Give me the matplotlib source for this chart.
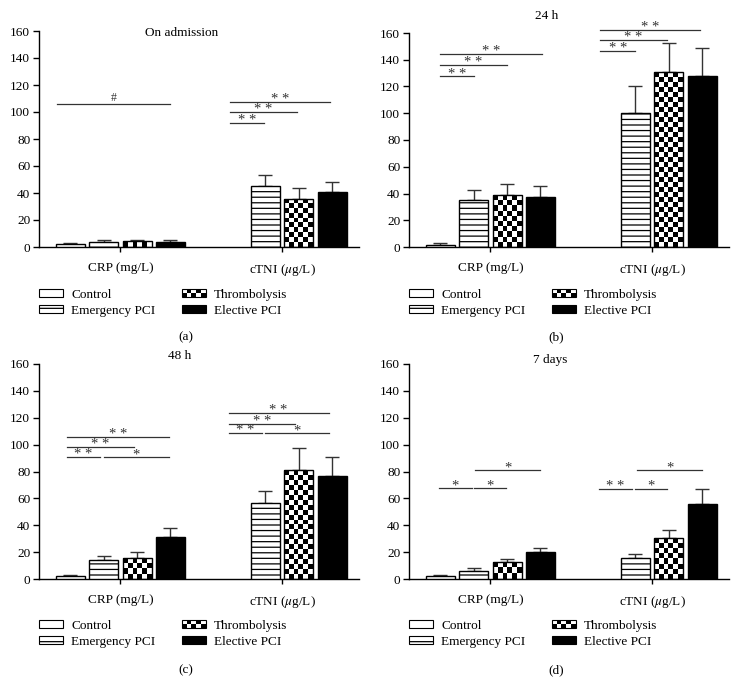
import matplotlib
matplotlib.use('Agg')
import matplotlib.pyplot as plt
import numpy as np
from matplotlib.patches import Rectangle, Patch
from matplotlib.legend_handler import HandlerBase

plt.rcParams['font.family'] = ['Liberation Serif', 'DejaVu Serif']
plt.rcParams['mathtext.fontset'] = 'stix'
plt.rcParams['hatch.linewidth'] = 0.9

# ---- data ----
groups = ['CRP (mg/L)', 'cTNI ($\\mu$g/L)']
series = ['Control', 'Emergency PCI', 'Thrombolysis', 'Elective PCI']
titles = ['On admission', '24 h', '48 h', '7 days']
panel_tags = ['(a)', '(b)', '(c)', '(d)']
nan = np.nan

# mean values, rows = groups (CRP, cTNI), cols = series
adm_mean = [[2.3, 3.6, 4.2, 3.8], [nan, 45.3, 35.9, 40.6]]
adm_err = [[0.8, 1.3, 1.3, 1.1], [nan, 8.2, 7.9, 7.2]]
h24_mean = [[1.8, 35.5, 38.7, 37.5], [nan, 100.0, 130.5, 128.0]]
h24_err = [[1.4, 7.3, 8.3, 8.3], [nan, 20.5, 22.0, 20.8]]
h48_mean = [[2.0, 13.9, 15.6, 31.0], [nan, 56.6, 80.9, 76.9]]
h48_err = [[1.2, 3.0, 4.2, 7.0], [nan, 8.7, 16.6, 13.9]]
d7_mean = [[2.0, 6.2, 12.7, 19.9], [nan, 15.4, 30.5, 55.8]]
d7_err = [[1.2, 2.0, 2.2, 3.1], [nan, 3.2, 6.2, 11.4]]

# significance lines: (group, from, to, y, label)
adm_sig = [(0, -1.9, 1.5, 105.7, '#'),
           (1, -1.55, -0.55, 91.8, '* *'), (1, -1.55, 0.45, 99.8, '* *'),
           (1, -1.55, 1.45, 107.4, '* *')]
h24_sig = [(0, -1.5, -0.5, 127.5, '* *'), (0, -1.5, 0.5, 135.8, '* *'),
           (0, -1.5, 1.55, 144.3, '* *'),
           (1, -1.55, -0.5, 146.8, '* *'), (1, -1.55, 0.45, 154.5, '* *'),
           (1, -1.55, 1.45, 162.5, '* *')]
h48_sig = [(0, -1.6, -0.6, 90.6, '* *'), (0, -0.5, 1.45, 90.6, '*'),
           (0, -1.6, 0.4, 98.3, '* *'), (0, -1.6, 1.45, 106.0, '* *'),
           (1, -1.6, -0.6, 108.4, '* *'), (1, -0.5, 1.4, 108.4, '*'),
           (1, -1.6, 0.4, 115.6, '* *'), (1, -1.6, 1.4, 123.5, '* *')]
d7_sig = [(0, -1.55, -0.55, 67.7, '*'), (0, -0.48, 0.48, 67.7, '*'),
          (0, -0.45, 1.5, 80.9, '*'),
          (1, -1.6, -0.6, 67.0, '* *'), (1, -0.5, 0.45, 67.0, '*'),
          (1, -0.45, 1.5, 80.9, '*')]

means = [adm_mean, h24_mean, h48_mean, d7_mean]
errs = [adm_err, h24_err, h48_err, d7_err]
sigs = [adm_sig, h24_sig, h48_sig, d7_sig]

# ---- layout ----
W, H = 743, 683
group_x = [0.0, 4.85]
offsets = [-1.5, -0.5, 0.5, 1.5]
bar_w = 0.87
px_y = 215 / 160.0   # pixels per y unit, for the checker size
cell_px = 5.0

# axes boxes in pixels: left, top, width, height
boxes = [(39, 31, 320, 216), (409, 33, 320, 214), (39, 364, 320, 215), (409, 364, 320, 215)]
title_xy = [(182, 33), (547, 16), (180, 356), (550, 360)]
tag_xy = [(186, 337), (556, 337), (186, 670), (556, 670)]
legend_top = [289, 289, 620, 620]


class CheckerHandler(HandlerBase):
    # legend box with a small checkerboard
    def create_artists(self, legend, orig_handle, xdescent, ydescent, width, height, fontsize, trans):
        arts = [Rectangle((-xdescent, -ydescent), width, height, fc='white', ec='black', lw=0.8, transform=trans)]
        nx, ny = 5, 2
        cw, ch = width / nx, height / ny
        for i in range(nx):
            for j in range(ny):
                if (i + j) % 2 == 0:
                    arts.append(Rectangle((-xdescent + i * cw, -ydescent + j * ch), cw, ch,
                                          fc='black', ec='none', transform=trans))
        return arts


fig = plt.figure(figsize=(W / 100, H / 100), dpi=100)

for p in range(4):
    l, t, w, h = boxes[p]
    ax = fig.add_axes([l / W, 1 - (t + h) / H, w / W, h / H])

    for g in range(2):
        for s in range(4):
            m = means[p][g][s]
            e = errs[p][g][s]
            if np.isnan(m):
                continue
            x = group_x[g] + offsets[s]
            ax.errorbar([x], [m], yerr=[[0], [e]], fmt='none', ecolor='#333333',
                        elinewidth=1.0, capsize=5, capthick=1.0, zorder=2)
            if s == 0:
                ax.bar(x, m, width=bar_w, color='white', edgecolor='black', linewidth=1.0, zorder=3)
            elif s == 1:
                ax.bar(x, m, width=bar_w, color='white', edgecolor='black', linewidth=1.0,
                       hatch='---', zorder=3)
            elif s == 2:
                bars = ax.bar(x, m, width=bar_w, color='none', edgecolor='black', linewidth=1.0, zorder=3)
                rect = bars[0]
                ny = max(1, int(round(m * px_y / cell_px)))
                nx = 6
                arr = np.add.outer(np.arange(ny), np.arange(nx)) % 2
                im = ax.imshow(arr, cmap='gray', vmin=0, vmax=1,
                               extent=(x - bar_w / 2, x + bar_w / 2, 0, m),
                               interpolation='nearest', aspect='auto', zorder=2.5)
                im.set_clip_path(rect)
            else:
                ax.bar(x, m, width=bar_w, color='black', edgecolor='black', linewidth=1.0, zorder=3)

    for g, x0, x1, y, lab in sigs[p]:
        ax.plot([group_x[g] + x0, group_x[g] + x1], [y, y], color='#333333', lw=0.9,
                clip_on=False, zorder=4)
        dy = 2.6 if lab == '#' else -0.8
        fs = 8.5 if lab == '#' else 10.5
        ax.text(group_x[g] + (x0 + x1) / 2, y + dy, lab, ha='center', va='baseline',
                fontsize=fs, color='#333333', clip_on=False)

    ax.set_xlim(-2.44, 7.16)
    ax.set_ylim(0, 160)
    ax.set_yticks(np.arange(0, 161, 20))
    ax.set_xticks(group_x)
    ax.set_xticklabels(groups)
    for sp in ['top', 'right']:
        ax.spines[sp].set_visible(False)
    for sp in ['left', 'bottom']:
        ax.spines[sp].set_linewidth(1.0)
    ax.tick_params(axis='y', direction='out', length=4.3, width=1.0, pad=2, labelsize=9.5)
    ax.tick_params(axis='x', direction='out', length=3.5, width=1.0, pad=7, labelsize=9.5)

    fig.text(title_xy[p][0] / W, 1 - title_xy[p][1] / H, titles[p], ha='center', va='center', fontsize=9.5)
    fig.text(tag_xy[p][0] / W, 1 - tag_xy[p][1] / H, panel_tags[p], ha='center', va='center', fontsize=9.5)

    thromb_handle = Patch(facecolor='white', edgecolor='black')
    handles = [Patch(facecolor='white', edgecolor='black', linewidth=0.8),
               Patch(facecolor='white', edgecolor='black', linewidth=0.8, hatch='---'),
               thromb_handle,
               Patch(facecolor='black', edgecolor='black', linewidth=0.8)]
    ax.legend(handles, series, loc='upper left', bbox_to_anchor=(l / W, 1 - legend_top[p] / H),
              bbox_transform=fig.transFigure, ncol=2, frameon=False, borderpad=0, borderaxespad=0,
              handlelength=1.8, handleheight=0.55, handletextpad=0.65, columnspacing=2.0,
              labelspacing=0.3, fontsize=9.5, handler_map={thromb_handle: CheckerHandler()})

fig.savefig('out.png', dpi=100)
